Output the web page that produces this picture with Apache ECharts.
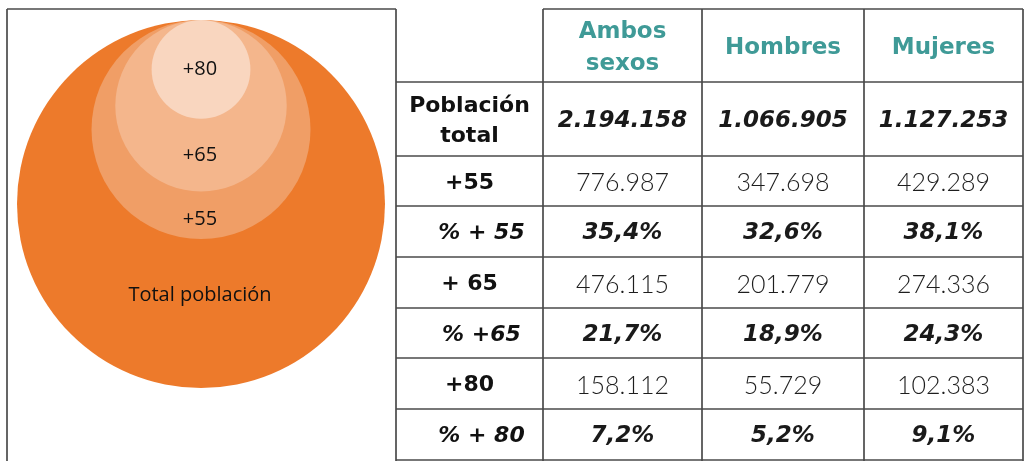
<!DOCTYPE html>
<html>
<head>
<meta charset="utf-8">
<script src="https://cdn.jsdelivr.net/npm/echarts@6/dist/echarts.min.js"></script>
<style>
  html, body { margin: 0; padding: 0; background: #fff; }
  #chart { width: 1025px; height: 461px; }
</style>
</head>
<body>
<div id="chart"></div>
<script>
// circles: population groups (area proportional to value)
const groups = ['Total población', '+55', '+65', '+80']
const groupValues = [2194158, 776987, 476115, 158112]

// table
const columns = ['Ambos\nsexos', 'Hombres', 'Mujeres']
const rowLabels = ['Población\ntotal', '+55', '% + 55', '+ 65', '% +65', '+80', '% + 80']
const ambos = ['2.194.158', '776.987', '35,4%', '476.115', '21,7%', '158.112', '7,2%']
const hombres = ['1.066.905', '347.698', '32,6%', '201.779', '18,9%', '55.729', '5,2%']
const mujeres = ['1.127.253', '429.289', '38,1%', '274.336', '24,3%', '102.383', '9,1%']

const circleColors = ['#ed7a2b', '#f09e66', '#f4b68c', '#f9d6bf']
const labelNudge = [-18, 4, 0, 0]

// table layout
const colX = [396, 543, 702, 864, 1023]
const rowY = [9, 82, 156, 206, 257, 308, 358, 409, 460]
const lineColor = '#4a4a4a'
const teal = '#3f9a97'
const boldFont = '"DejaVu Sans", sans-serif'
const lightFont = 'Lato, "Open Sans", sans-serif'

const chart = echarts.init(document.getElementById('chart'))

const graphic = []
const line = (x1, y1, x2, y2) => graphic.push({
    type: 'line',
    shape: { x1, y1, x2, y2 },
    style: { stroke: lineColor, lineWidth: 1.7 },
    silent: true
})

// left frame
line(7, 9, 396, 9)
line(7, 9, 7, 470)
// table grid
line(colX[1], rowY[0], colX[4], rowY[0])
rowY.slice(1).forEach(y => line(colX[0], y, colX[4], y))
colX.forEach(x => line(x, rowY[0], x, 470))

const cx = i => (colX[i] + colX[i + 1]) / 2
const cy = j => (rowY[j] + rowY[j + 1]) / 2 + 2

columns.forEach((c, i) => graphic.push({
    type: 'text',
    style: {
        text: c, x: cx(i + 1), y: cy(0) + 1,
        align: 'center', verticalAlign: 'middle',
        fill: teal, fontFamily: boldFont, fontWeight: 'bold',
        fontSize: 23, lineHeight: 32
    }
}))

const valueCols = [ambos, hombres, mujeres]
rowLabels.forEach((lab, j) => {
    const italic = j === 0 || j % 2 === 0
    const pctRow = j > 0 && j % 2 === 0
    graphic.push({
        type: 'text',
        style: {
            text: lab, x: cx(0) + (pctRow ? 12 : 0), y: cy(j + 1),
            align: 'center', verticalAlign: 'middle',
            fill: '#111', fontFamily: boldFont, fontWeight: 'bold',
            fontStyle: pctRow ? 'italic' : 'normal',
            fontSize: 22, lineHeight: 30
        }
    })
    valueCols.forEach((vals, i) => graphic.push({
        type: 'text',
        style: italic ? {
            text: vals[j], x: cx(i + 1), y: cy(j + 1),
            align: 'center', verticalAlign: 'middle',
            fill: '#1a1a1a', fontFamily: boldFont, fontWeight: 'bold',
            fontStyle: 'italic', fontSize: 23
        } : {
            text: vals[j], x: cx(i + 1), y: cy(j + 1),
            align: 'center', verticalAlign: 'middle',
            fill: '#1e1e1e', fontFamily: lightFont, fontWeight: 300,
            fontSize: 25
        }
    }))
})

const option = {
    animation: false,
    grid: { left: 17, top: 20, width: 368, height: 367 },
    xAxis: { type: 'value', min: -1, max: 1, show: false },
    yAxis: { type: 'value', min: -1, max: 1, show: false },
    graphic: graphic,
    series: [{
        type: 'custom',
        coordinateSystem: 'cartesian2d',
        data: groupValues.map((v, i) => [Math.sqrt(v / groupValues[0]), i]),
        renderItem: (params, api) => {
            const i = api.value(1)
            const r = api.size([api.value(0), 0])[0]
            const top = api.coord([0, 1])
            const x = top[0]
            const y = top[1] + r
            // label sits in the middle of the ring left below the next circle
            let ly = y
            if (i < groupValues.length - 1) {
                const rIn = api.size([Math.sqrt(groupValues[i + 1] / groupValues[0]), 0])[0]
                ly = (top[1] + 2 * rIn + top[1] + 2 * r) / 2
            }
            ly += labelNudge[i]
            return {
                type: 'group',
                children: [{
                    type: 'circle',
                    shape: { cx: x, cy: y, r: r },
                    style: { fill: circleColors[i] },
                    z2: i
                }, {
                    type: 'text',
                    style: {
                        text: groups[i], x: x - 1, y: ly,
                        align: 'center', verticalAlign: 'middle',
                        fill: '#111', fontFamily: '"Open Sans", sans-serif', fontSize: 20
                    },
                    z2: 10
                }]
            }
        }
    }]
}

chart.setOption(option)
</script>
</body>
</html>
